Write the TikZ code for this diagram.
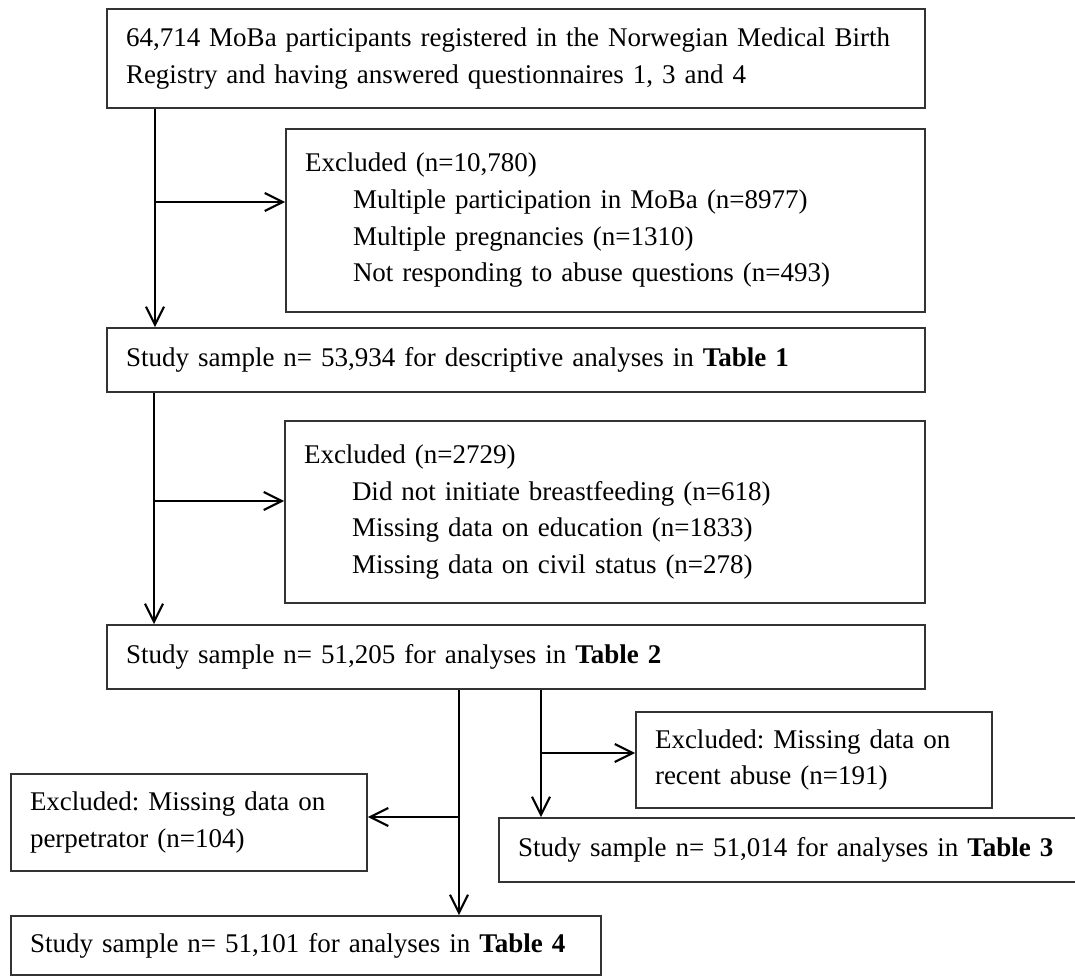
\documentclass[tikz,border=0pt]{standalone}
\usepackage{fontspec}
\setmainfont{Liberation Serif}
\usepackage{tikz}
\usetikzlibrary{arrows.meta}
\frenchspacing

\begin{document}
\begin{tikzpicture}[x=0.5pt, y=-0.5pt,
    flowbox/.style = {draw=black!80, line width=0.8pt, inner xsep=9.5pt, inner ysep=0pt,
      align=left, font=\fontsize{13.5}{18.35}\selectfont},
    flowarrow/.style = {line width=1.2pt, -{Straight Barb[length=9pt, width=9pt, line width=1.1pt]}}]
\useasboundingbox (0,0) rectangle (1075,977);
% boxes
\node[flowbox, text width=390pt, minimum height=49.5pt] (reg) at (516,58.5)
  {64,714 MoBa participants registered in the Norwegian Medical Birth\\
   Registry and having answered questionnaires 1, 3 and 4};
\node[flowbox, text width=300.5pt, minimum height=91.5pt] (excl1) at (605.5,220.5)
  {Excluded (n=10,780)\\
   \hspace*{24pt}Multiple participation in MoBa (n=8977)\\
   \hspace*{24pt}Multiple pregnancies (n=1310)\\
   \hspace*{24pt}Not responding to abuse questions (n=493)};
\node[flowbox, text width=390pt, minimum height=32pt] (tab1) at (516,360)
  {Study sample n= 53,934 for descriptive analyses in \textbf{Table 1}};
\node[flowbox, text width=301pt, minimum height=91pt] (excl2) at (605,512)
  {Excluded (n=2729)\\
   \hspace*{24pt}Did not initiate breastfeeding (n=618)\\
   \hspace*{24pt}Missing data on education (n=1833)\\
   \hspace*{24pt}Missing data on civil status (n=278)};
\node[flowbox, text width=390pt, minimum height=32pt] (tab2) at (516,657)
  {Study sample n= 51,205 for analyses in \textbf{Table 2}};
\node[flowbox, text width=159pt, minimum height=48.5pt] (perp) at (189,822.5)
  {Excluded: Missing data on\\ perpetrator (n=104)};
\node[flowbox, text width=276pt, minimum height=29.5pt] (tab4) at (306,945.5)
  {Study sample n= 51,101 for analyses in \textbf{Table 4}};
\node[flowbox, text width=159pt, minimum height=48pt] (recent) at (814,760)
  {Excluded: Missing data on\\ recent abuse (n=191)};
\node[flowbox, text width=271.5pt, minimum height=32pt] (tab3) at (789.5,850)
  {Study sample n= 51,014 for analyses in \textbf{Table 3}};
% branch points
\coordinate (j1) at (155,202);
\coordinate (j2) at (154,501);
\coordinate (j3) at (459,817);
\coordinate (j4) at (541,753);
% connectors
\draw[flowarrow] (j1 |- reg.south) -- (j1 |- tab1.north);
\draw[flowarrow] (j1) -- (j1 -| excl1.west);
\draw[flowarrow] (j2 |- tab1.south) -- (j2 |- tab2.north);
\draw[flowarrow] (j2) -- (j2 -| excl2.west);
\draw[flowarrow] (j3 |- tab2.south) -- (j3 |- tab4.north);
\draw[flowarrow] (j3) -- (j3 -| perp.east);
\draw[flowarrow] (j4 |- tab2.south) -- (j4 |- tab3.north);
\draw[flowarrow] (j4) -- (j4 -| recent.west);
\end{tikzpicture}
\end{document}
